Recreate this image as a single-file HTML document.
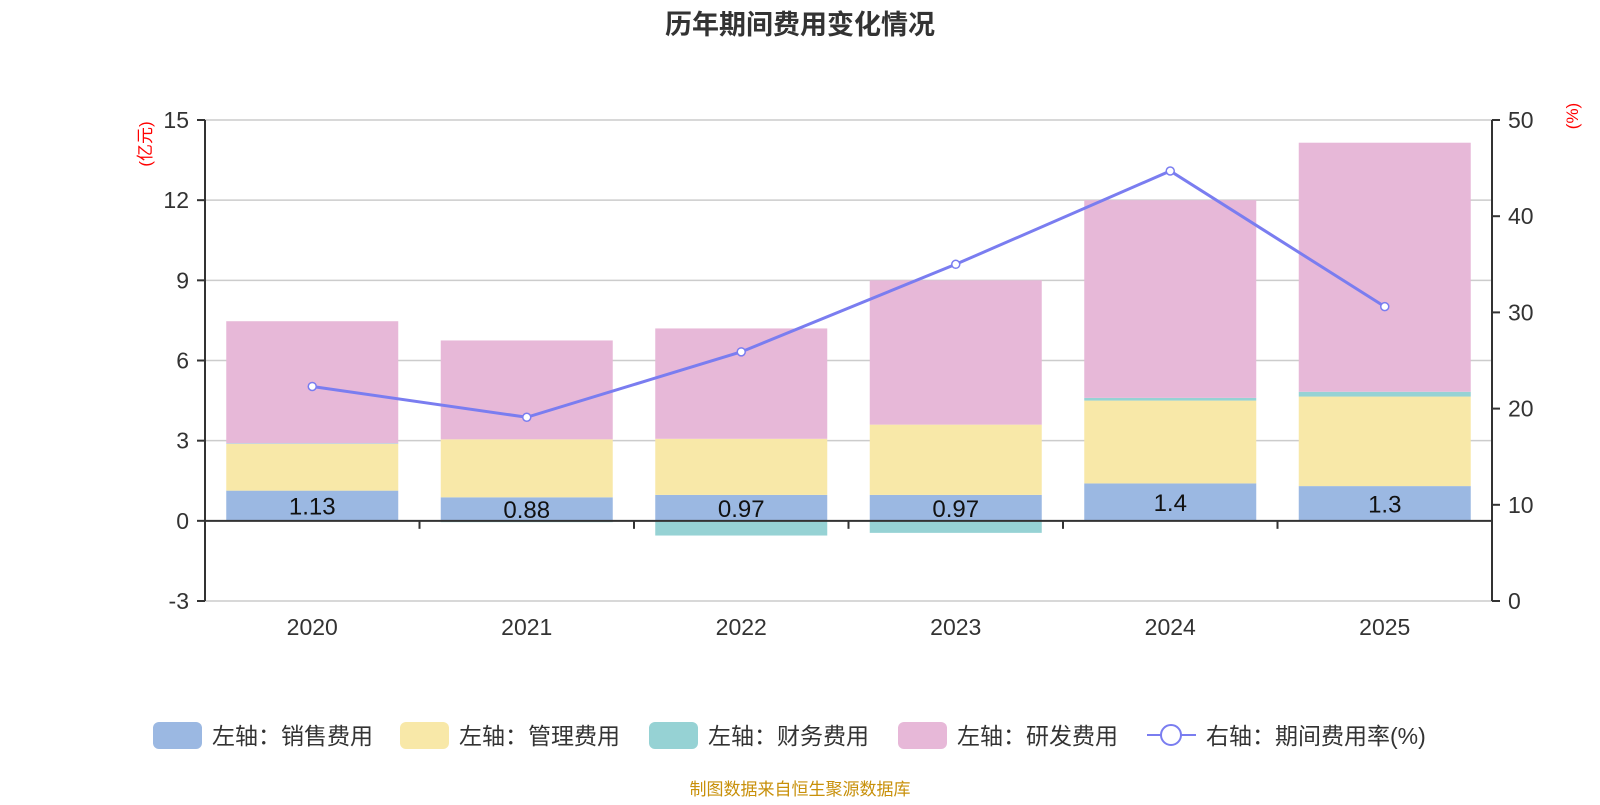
<!DOCTYPE html>
<html><head><meta charset="utf-8"><style>
body{margin:0;background:#fff;font-family:"Liberation Sans","Noto Sans CJK SC",sans-serif}
svg text{font-family:"Liberation Sans","Noto Sans CJK SC",sans-serif}
</style></head><body>
<svg id="c" width="1600" height="800"></svg>
<script>
const categories=["2020","2021","2022","2023","2024","2025"];
const sales=[1.13,0.88,0.97,0.97,1.4,1.3];
const admin=[1.75,2.17,2.1,2.63,3.1,3.35];
const finance=[0.02,-0.05,-0.55,-0.45,0.1,0.18];
const rnd=[4.57,3.7,4.13,5.4,7.4,9.32];
const rate=[22.3,19.1,25.9,35.0,44.7,30.6];
const leftTicks=[-3,0,3,6,9,12,15];
const rightTicks=[0,10,20,30,40,50];
const NS="http://www.w3.org/2000/svg";
const svg=document.getElementById('c');
const X0=205,X1=1492,Y15=120,Ym3=601;
const yL=v=>Ym3-(v+3)/18*(Ym3-Y15);
const yR=v=>Ym3-v/50*(Ym3-Y15);
const bw=(X1-X0)/categories.length;
const xc=i=>X0+bw*(i+0.5);
function mk(t,a,txt){const e=document.createElementNS(NS,t);for(const k in a)e.setAttribute(k,a[k]);if(txt!==undefined)e.textContent=txt;svg.appendChild(e);return e;}
let e;
e=mk('text',{x:800,y:34,'text-anchor':'middle','font-size':27,'font-weight':'bold',fill:'#333'},'历年期间费用变化情况');

leftTicks.forEach(v=>{
 if(v!==0){e=mk('line',{x1:X0,x2:X1,y1:yL(v),y2:yL(v),stroke:'#ccc','stroke-width':1.5});}
 e=mk('line',{x1:X0-8,x2:X0,y1:yL(v),y2:yL(v),stroke:'#333','stroke-width':2});
 e=mk('text',{x:X0-16,y:yL(v)+8,'text-anchor':'end','font-size':23,fill:'#333'},String(v));
});
rightTicks.forEach(v=>{
 e=mk('line',{x1:X1,x2:X1+8,y1:yR(v),y2:yR(v),stroke:'#333','stroke-width':2});
 e=mk('text',{x:X1+16,y:yR(v)+8,'font-size':23,fill:'#333'},String(v));
});
e=mk('text',{x:0,y:0,'font-size':17,fill:'red',transform:`translate(151,${Y15+24}) rotate(-90)`,'text-anchor':'middle'},'(亿元)');
e=mk('text',{x:0,y:0,'font-size':17,fill:'red',transform:`translate(1578,${Y15-4}) rotate(-90)`,'text-anchor':'middle'},'(%)');
const colors=['#9bb8e2','#f8e8a8','#96d2d4','#e7b8d8'];
const series=[sales,admin,finance,rnd];
const barW=172;
categories.forEach((c,i)=>{
 let pos=0,neg=0;
 series.forEach((s,k)=>{
  const v=s[i];let a,b;
  if(v>=0){a=pos;b=pos+v;pos=b;}else{a=neg;b=neg+v;neg=b;}
  e=mk('rect',{x:xc(i)-barW/2,y:Math.min(yL(a),yL(b)),width:barW,height:Math.abs(yL(a)-yL(b)),fill:colors[k]});
  
 });
 e=mk('text',{x:xc(i),y:yL(sales[i]/2)+9,'text-anchor':'middle','font-size':24,fill:'#111'},String(sales[i]));
 
 e=mk('text',{x:xc(i),y:Ym3+34,'text-anchor':'middle','font-size':23,fill:'#333'},c);
 
});
for(let i=0;i<=categories.length;i++){e=mk('line',{x1:X0+bw*i,x2:X0+bw*i,y1:yL(0),y2:yL(0)+8,stroke:'#333','stroke-width':2});}
e=mk('line',{x1:X0,x2:X1,y1:yL(0),y2:yL(0),stroke:'#333','stroke-width':2});
e=mk('line',{x1:X0,x2:X0,y1:Y15,y2:Ym3,stroke:'#333','stroke-width':2});
e=mk('line',{x1:X1,x2:X1,y1:Y15,y2:Ym3,stroke:'#333','stroke-width':2});
e=mk('polyline',{points:rate.map((v,i)=>xc(i)+','+yR(v)).join(' '),fill:'none',stroke:'#7a7df0','stroke-width':3});

rate.forEach((v,i)=>{e=mk('circle',{cx:xc(i),cy:yR(v),r:4,fill:'#fff',stroke:'#7a7df0','stroke-width':1.5});});
const legend=[['左轴：销售费用',153],['左轴：管理费用',400],['左轴：财务费用',649],['左轴：研发费用',898]];
legend.forEach((l,k)=>{
 e=mk('rect',{x:l[1],y:722,width:49,height:27,rx:6,fill:colors[k]});
 e=mk('text',{x:l[1]+59,y:744,'font-size':23,fill:'#333'},l[0]);
});
e=mk('line',{x1:1147,x2:1196,y1:735,y2:735,stroke:'#7a7df0','stroke-width':2});
e=mk('circle',{cx:1171,cy:735,r:10,fill:'#fff',stroke:'#7a7df0','stroke-width':2});
e=mk('text',{x:1206,y:744,'font-size':23,fill:'#333'},'右轴：期间费用率(%)');
e=mk('text',{x:800,y:795,'text-anchor':'middle','font-size':17,fill:'#c8900a'},'制图数据来自恒生聚源数据库');
</script>
</body></html>
